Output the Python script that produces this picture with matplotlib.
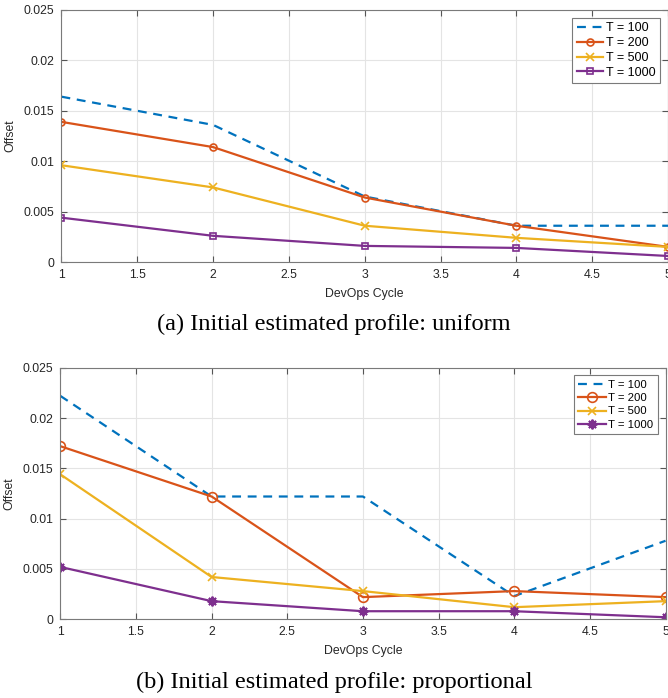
import numpy as np
import matplotlib
matplotlib.use('Agg')
import matplotlib.pyplot as plt

# DevOps cycle index
cycles = [1, 2, 3, 4, 5]
labels = ['T = 100', 'T = 200', 'T = 500', 'T = 1000']

# (a) uniform initial profile
uni_100 = [0.0164, 0.0136, 0.0065, 0.0036, 0.0036]
uni_200 = [0.0139, 0.0114, 0.0064, 0.0036, 0.0015]
uni_500 = [0.0096, 0.0074, 0.0036, 0.0024, 0.0015]
uni_1000 = [0.0044, 0.0026, 0.0016, 0.0014, 0.0006]

# (b) proportional initial profile
pro_100 = [0.0222, 0.0122, 0.0122, 0.0023, 0.0078]
pro_200 = [0.0172, 0.0122, 0.0022, 0.0028, 0.0022]
pro_500 = [0.0144, 0.0042, 0.0028, 0.0012, 0.0018]
pro_1000 = [0.0052, 0.0018, 0.0008, 0.0008, 0.0002]

colors = ['#0072BD', '#D95319', '#EDB120', '#7E2F8E']
xticks = [1, 1.5, 2, 2.5, 3, 3.5, 4, 4.5, 5]
xticklabels = ['1', '1.5', '2', '2.5', '3', '3.5', '4', '4.5', '5']
yticks = [0, 0.005, 0.01, 0.015, 0.02, 0.025]
yticklabels = ['0', '0.005', '0.01', '0.015', '0.02', '0.025']

plt.rcParams['font.family'] = ['Liberation Sans', 'DejaVu Sans']

fig = plt.figure(figsize=(6.68, 6.98), dpi=100)
ax1 = fig.add_axes([0.092, 0.6246, 0.908, 0.3611])
ax2 = fig.add_axes([0.0903, 0.1128, 0.9060, 0.3604])


def style(ax):
    ax.set_xlim(1, 5)
    ax.set_ylim(0, 0.025)
    ax.set_xticks(xticks)
    ax.set_xticklabels(xticklabels)
    ax.set_yticks(yticks)
    ax.set_yticklabels(yticklabels)
    ax.grid(True, color='#e4e4e4', linewidth=0.8)
    ax.set_axisbelow(True)
    ax.tick_params(direction='in', top=True, right=True, length=4,
                   labelsize=8.8, colors='#555555', labelcolor='#262626', pad=5)
    for s in ax.spines.values():
        s.set_color('#7a7a7a')
        s.set_linewidth(0.8)
    ax.set_xlabel('DevOps Cycle', fontsize=8.8, color='#262626', labelpad=5)
    ax.set_ylabel('Offset', fontsize=8.8, color='#262626', labelpad=5)


lw = 1.6
ax1.plot(cycles, uni_100, '--', color=colors[0], lw=lw, dashes=(4, 3), label=labels[0])
ax1.plot(cycles, uni_200, '-o', color=colors[1], lw=lw, ms=5, mfc='none', mew=1.2, label=labels[1])
ax1.plot(cycles, uni_500, '-x', color=colors[2], lw=lw, ms=6, mew=1.2, label=labels[2])
ax1.plot(cycles, uni_1000, '-s', color=colors[3], lw=lw, ms=5, mfc='none', mew=1.2, label=labels[3])
style(ax1)
leg = ax1.legend(loc='upper right', fontsize=9, handlelength=2.1, handletextpad=0.25,
                 borderpad=0.35, labelspacing=0.22, fancybox=False, framealpha=1,
                 edgecolor='#7a7a7a', borderaxespad=0.65)
leg.get_frame().set_linewidth(0.8)

ax2.plot(cycles, pro_100, '--', color=colors[0], lw=lw, dashes=(4, 3), label=labels[0])
ax2.plot(cycles, pro_200, '-o', color=colors[1], lw=lw, ms=7, mfc='none', mew=1.2, label=labels[1])
ax2.plot(cycles, pro_500, '-x', color=colors[2], lw=lw, ms=6, mew=1.2, label=labels[2])
ax2.plot(cycles, pro_1000, '-', marker=(8, 2, 0), color=colors[3], lw=lw, ms=7, mew=1.4, label=labels[3])
style(ax2)
leg = ax2.legend(loc='upper right', fontsize=8.2, handlelength=2.4, handletextpad=0.25,
                 borderpad=0.4, labelspacing=0.3, fancybox=False, framealpha=1,
                 edgecolor='#7a7a7a', borderaxespad=0.65)
leg.get_frame().set_linewidth(0.8)

fig.text(0.5, 1 - 324 / 698, '(a) Initial estimated profile: uniform', ha='center', va='center',
         fontsize=17.6, family=['Liberation Serif', 'DejaVu Serif'])
fig.text(0.5, 1 - 682 / 698, '(b) Initial estimated profile: proportional', ha='center', va='center',
         fontsize=17.6, family=['Liberation Serif', 'DejaVu Serif'])

fig.savefig('out.png', dpi=100)
